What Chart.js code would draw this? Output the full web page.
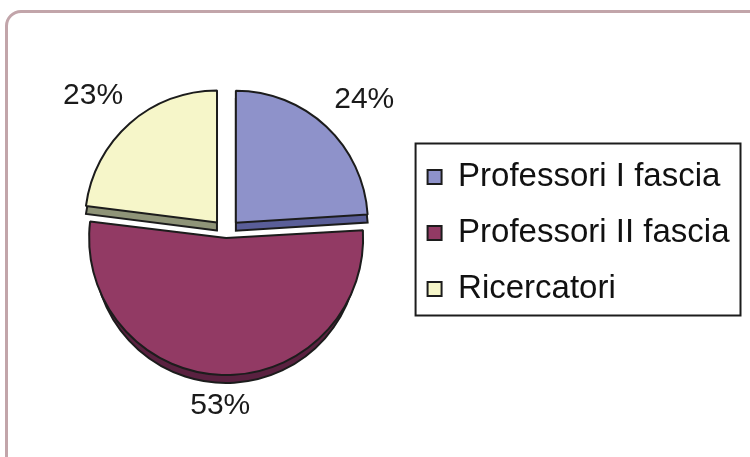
<!DOCTYPE html>
<html lang="it">
<head>
<meta charset="UTF-8">
<title>Docenti</title>
<style>
  body { margin: 0; background: #fff; }
  .frame { position: absolute; left: 5px; top: 10px; width: 760px; height: 460px;
           border: 3px solid #c2a5aa; border-radius: 16px; }
  .wrap { position: absolute; left: 0; top: 0; width: 750px; height: 457px; }
</style>
</head>
<body>
<div class="frame"></div>
<div class="wrap"><canvas id="mychart" width="750" height="457"></canvas></div>

<script src="https://cdn.jsdelivr.net/npm/chart.js@4.4.0/dist/chart.umd.min.js"></script>
<script>
var categorie = ['Professori I fascia', 'Professori II fascia', 'Ricercatori'];
var percentuali = [24, 53, 23];
var etichette = ['24%', '53%', '23%'];

var colori = ['#8e92ca', '#923a64', '#f6f6c9'];
var coloriLato = ['#5a5e98', '#5a2140', '#8f9478'];
var font = '"Liberation Sans", Arial, sans-serif';
var profondita = 8;

// centro della fetta dopo lo spostamento (stesso calcolo di ArcElement v4)
function centroArco(arc, p) {
    var half = (p.startAngle + p.endAngle) / 2;
    var circ = p.endAngle - p.startAngle;
    var off = (arc.options.offset || 0) / 4;
    var fix = 1 - Math.sin(Math.min(Math.PI, circ));
    var d = off + off * fix;
    return { x: p.x + Math.cos(half) * d, y: p.y + Math.sin(half) * d, half: half };
}

var ombra3d = {
    id: 'ombra3d',
    beforeDatasetsDraw: function (chart) {
        var ctx = chart.ctx;
        ctx.save();
        chart.getDatasetMeta(0).data.forEach(function (arc, i) {
            var p = arc.getProps(['x', 'y', 'startAngle', 'endAngle', 'outerRadius'], true);
            var c = centroArco(arc, p);
            ctx.fillStyle = coloriLato[i];
            for (var k = 1; k <= profondita; k++) {
                ctx.beginPath();
                ctx.moveTo(c.x, c.y + k);
                ctx.arc(c.x, c.y + k, p.outerRadius, p.startAngle, p.endAngle);
                ctx.closePath();
                ctx.fill();
            }
            ctx.lineWidth = 2;
            ctx.strokeStyle = '#1c1c1c';
            ctx.stroke();
        });
        ctx.restore();
    },
    afterDatasetsDraw: function (chart) {
        var ctx = chart.ctx;
        ctx.save();
        ctx.font = '30px ' + font;
        ctx.fillStyle = '#1a1a1a';
        ctx.textAlign = 'center';
        ctx.textBaseline = 'middle';
        chart.getDatasetMeta(0).data.forEach(function (arc, i) {
            var p = arc.getProps(['x', 'y', 'startAngle', 'endAngle', 'outerRadius'], true);
            var c = centroArco(arc, p);
            var w = ctx.measureText(etichette[i]).width;
            var cx = Math.cos(c.half), cy = Math.sin(c.half);
            var dist = p.outerRadius + 20 + 8 * Math.abs(cx);
            ctx.fillText(etichette[i], c.x + cx * dist + cx * w / 2, c.y + cy * dist + cy * 11);
        });
        ctx.restore();
    },
    afterDraw: function (chart) {
        var hb = chart.legend.legendHitBoxes;
        if (!hb || !hb.length) return;
        var right = 0;
        hb.forEach(function (b) { right = Math.max(right, b.left + b.width); });
        var last = hb[hb.length - 1];
        var x0 = hb[0].left - 12, y0 = hb[0].top - 17;
        var ctx = chart.ctx;
        ctx.save();
        ctx.lineWidth = 2;
        ctx.strokeStyle = '#1c1c1c';
        ctx.strokeRect(x0, y0, right + 11 - x0, last.top + last.height + 10 - y0);
        ctx.restore();
    }
};

var ctx = document.getElementById('mychart');

var mychart = new Chart(ctx, {
    type: 'pie',
    data: {
        labels: categorie,
        datasets: [{
            data: percentuali,
            backgroundColor: colori,
            borderColor: '#1c1c1c',
            borderWidth: 2,
            offset: [56, 20, 56],
            radius: 132
        }]
    },
    options: {
        responsive: false,
        animation: false,
        layout: { padding: { top: 82, bottom: 73, left: 48, right: 10.5 } },
        plugins: {
            tooltip: { enabled: false },
            legend: {
                position: 'right',
                labels: {
                    boxWidth: 14,
                    boxHeight: 14,
                    padding: 23,
                    color: '#111',
                    font: { size: 33, family: font }
                }
            }
        }
    },
    plugins: [ombra3d]
});
</script>
</body>
</html>
